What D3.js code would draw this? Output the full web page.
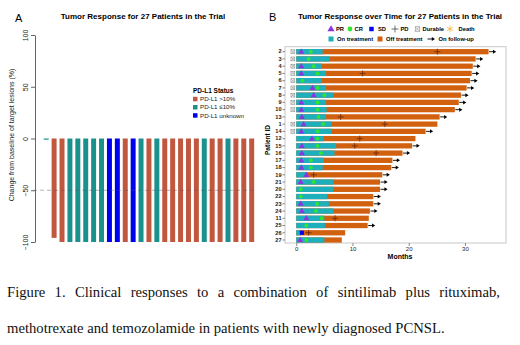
<!DOCTYPE html>
<html>
<head>
<meta charset="utf-8">
<script src="https://cdn.jsdelivr.net/npm/d3@7"></script>
<style>
  body { margin: 0; background: #fff; }
  svg { display: block; }
</style>
</head>
<body>
<div id="chart"></div>
<script>
// ---- Panel A: waterfall of best response ----
const waterfallChange = [-1, -96, -100, -100, -100, -100, -100, -100, -100, -100, -100, -100, -100, -100,
  -100, -100, -100, -100, -100, -100, -100, -100, -100, -100, -100, -100, -100];
const waterfallStatus = [1, 0, 0, 1, 1, 1, 1, 1, 2, 2, 0, 2, 1, 0, 1, 0, 0, 0, 0, 0, 1, 0, 0, 1, 0, 0, 0];
const statusLabels = ["PD-L1 >10%", "PD-L1 \u226410%", "PD-L1 unknown"];
const statusColors = ["#c0573e", "#1b918e", "#0000ee"];
const changeTicks = [100, 50, 0, -50, -100];

// ---- Panel B: swimmer plot ----
const patientIds = [2, 3, 4, 5, 6, 7, 8, 9, 10, 13, 1, 14, 12, 15, 16, 17, 18, 19, 21, 20, 22, 23, 24, 11, 25, 26, 27];
const totalMonths = [34.2, 31.9, 31.4, 31.2, 30.9, 30.3, 29.3, 28.9, 28.2, 25.5, 25.1, 23.0, 21.2, 20.6,
  18.9, 17.1, 16.9, 15.3, 14.9, 14.9, 13.7, 13.7, 13.1, 12.9, 12.7, 8.7, 8.1];
const onTreatMonths = [4.7, 5.9, 4.5, 5.3, 4.5, 5.3, 6.6, 5.3, 5.4, 5.3, 6.3, 6.3, 4.8, 7.1,
  6.8, 4.9, 4.7, 2.0, 6.6, 6.6, 5.5, 5.8, 6.6, 5.0, 5.1, 0.7, 5.0];
const prMonths = [0.9, null, 0.9, 0.9, null, 2.9, 3.1, 0.9, 0.9, 1.0, 1.3, 0.9, 2.8, 1.0,
  1.0, 0.9, 0.9, 1.8, 0.8, null, null, 0.8, 1.0, 1.8, null, null, 0.7];
const crMonths = [2.6, 2.2, 3.1, 3.8, 1.1, 3.8, 5.0, 3.8, 3.8, 3.95, 4.8, 3.8, 3.8, 3.8,
  4.4, 2.6, 2.6, null, 3.1, 0.8, 0.8, 3.7, 3.5, 4.5, 1.8, null, 1.8];
const sdMonths = [null, null, null, null, null, null, null, null, null, null, null, null, null, null,
  null, null, null, null, null, null, null, null, null, null, null, 1.0, null];
const pdMonths = [25.1, null, null, 11.8, null, null, null, null, null, 7.9, 15.75, null, 11.3, 10.4,
  14.2, null, null, 3.1, null, null, null, null, null, 6.9, null, 2.2, null];
const durable = [1, 1, 1, 1, 1, 1, 1, 1, 1, 0, 1, 1, 0, 0, 0, 0, 0, 0, 0, 0, 0, 0, 0, 0, 0, 0, 0];
const onFollowUp = [1, 1, 1, 1, 1, 1, 1, 1, 1, 1, 0, 1, 0, 1, 1, 1, 1, 1, 1, 1, 1, 1, 1, 0, 1, 0, 0];
const monthTicks = [0, 10, 20, 30];

const captionLines = [
  "Figure 1. Clinical responses to a combination of sintilimab plus rituximab,",
  "methotrexate and temozolamide in patients with newly diagnosed PCNSL."
];

const W = 520, H = 345;
const sans = "'Liberation Sans', Arial, sans-serif";

const svg = d3.select("#chart").append("svg")
    .attr("width", W).attr("height", H)
    .style("font-family", sans);

// ================= Panel A =================
const gA = svg.append("g");

const xA = d3.scaleBand()
    .domain(d3.range(waterfallChange.length))
    .range([42.3, 255.6])
    .paddingInner(0.37)
    .paddingOuter(0.18);
const yA = d3.scaleLinear().domain([-100, 100]).range([242, 35]);

gA.append("text").attr("x", 15).attr("y", 22)
    .style("font-size", "11px").text("A");
gA.append("text").attr("x", 143).attr("y", 19)
    .attr("text-anchor", "middle")
    .style("font-size", "8px").style("font-weight", "bold")
    .text("Tumor Response for 27 Patients in the Trial");

gA.selectAll("rect.wf")
    .data(waterfallChange)
    .enter()
    .append("rect")
    .attr("class", "wf")
    .attr("x", (d, i) => xA(i))
    .attr("width", xA.bandwidth())
    .attr("y", yA(0))
    .attr("height", (d) => Math.max(1.2, yA(d) - yA(0)))
    .attr("fill", (d, i) => statusColors[waterfallStatus[i]]);

// dashed reference at -50
gA.append("line")
    .attr("x1", 33).attr("x2", 257)
    .attr("y1", yA(-50)).attr("y2", yA(-50))
    .attr("stroke", "#555").attr("stroke-opacity", 0.55)
    .attr("stroke-width", 0.8).attr("stroke-dasharray", "4,3");

const axA = gA.append("g")
    .attr("transform", "translate(35,0)")
    .call(d3.axisLeft(yA).tickValues(changeTicks).tickSize(4).tickSizeOuter(0));
axA.select(".domain").attr("stroke", "#666");
axA.selectAll(".tick line").attr("stroke", "#666");
axA.selectAll(".tick text")
    .attr("transform", "rotate(-90)")
    .attr("x", 0).attr("y", -7).attr("dy", 0)
    .attr("text-anchor", "middle")
    .style("font-size", "7px").style("font-family", sans).attr("fill", "#222");

gA.append("text")
    .attr("transform", "translate(14,135) rotate(-90)")
    .attr("text-anchor", "middle")
    .style("font-size", "7px").attr("fill", "#222")
    .text("Change from baseline of target lesions (%)");

// legend
const legA = gA.append("g").attr("transform", "translate(193,0)");
legA.append("text").attr("x", 0).attr("y", 92.5)
    .style("font-size", "6.5px").style("font-weight", "bold").text("PD-L1 Status");
statusLabels.forEach((lab, i) => {
  const yy = 99 + i * 8.2;
  legA.append("rect").attr("x", 0).attr("y", yy - 2.2).attr("width", 4.5).attr("height", 4.5)
      .attr("fill", statusColors[i]);
  legA.append("text").attr("x", 7).attr("y", yy + 2.2)
      .style("font-size", "6.2px").attr("fill", "#222").text(lab);
});

// ================= Panel B =================
const gB = svg.append("g");
const onColor = "#1eafbd", offColor = "#d2610f";
const prColor = "#8a35e0", crColor = "#2ee62e", sdColor = "#0000ee";
const pdColor = "#5a220a", deathColor = "#f2b84b";

const xB = d3.scaleLinear().domain([-2, 37.3]).range([285, 506]);
const yB = d3.scaleBand().domain(patientIds).range([48.1, 243.6]).paddingInner(0.27).paddingOuter(0.13);
const rows = patientIds.map((id, i) => ({
  id, total: totalMonths[i], on: onTreatMonths[i], pr: prMonths[i], cr: crMonths[i],
  sd: sdMonths[i], pd: pdMonths[i], durable: durable[i], follow: onFollowUp[i]
}));

gB.append("text").attr("x", 269).attr("y", 21)
    .style("font-size", "11px").text("B");
gB.append("text").attr("x", 400).attr("y", 18.5)
    .attr("text-anchor", "middle")
    .style("font-size", "8px").style("font-weight", "bold")
    .text("Tumor Response over Time for 27 Patients in the Trial");

// panel border
gB.append("rect").attr("x", 285).attr("y", 46.7).attr("width", 221).attr("height", 196.3)
    .attr("fill", "none").attr("stroke", "#c8c8c8").attr("stroke-width", 1);

// bars
gB.selectAll("rect.off").data(rows).enter().append("rect")
    .attr("class", "off")
    .attr("x", xB(0)).attr("y", (d) => yB(d.id))
    .attr("width", (d) => xB(d.total) - xB(0)).attr("height", yB.bandwidth())
    .attr("fill", offColor);
gB.selectAll("rect.on").data(rows).enter().append("rect")
    .attr("class", "on")
    .attr("x", xB(0)).attr("y", (d) => yB(d.id))
    .attr("width", (d) => xB(d.on) - xB(0)).attr("height", yB.bandwidth())
    .attr("fill", onColor);

const cy = (d) => yB(d.id) + yB.bandwidth() / 2;

// durable box-with-cross
function durableMark(sel, x, y, s) {
  sel.append("rect").attr("x", x - s / 2).attr("y", y - s / 2).attr("width", s).attr("height", s)
      .attr("fill", "#fff").attr("stroke", "#8a8a8a").attr("stroke-width", 0.6);
  sel.append("path").attr("d", `M${x - s / 2},${y - s / 2}L${x + s / 2},${y + s / 2}M${x + s / 2},${y - s / 2}L${x - s / 2},${y + s / 2}`)
      .attr("stroke", "#8a8a8a").attr("stroke-width", 0.6);
}
rows.filter((d) => d.durable).forEach((d) => durableMark(gB, xB(-0.6), cy(d), 3.8));

// PD crosses
const plusPath = (x, y, s) => `M${x - s},${y}L${x + s},${y}M${x},${y - s}L${x},${y + s}`;
gB.selectAll("path.pd").data(rows.filter((d) => d.pd != null)).enter().append("path")
    .attr("class", "pd")
    .attr("d", (d) => plusPath(xB(d.pd), cy(d), 3))
    .attr("stroke", pdColor).attr("stroke-width", 0.7);

const tri = d3.symbol().type(d3.symbolTriangle).size(16);
const circ = d3.symbol().type(d3.symbolCircle).size(12);
const sq = d3.symbol().type(d3.symbolSquare).size(17);

gB.selectAll("path.cr").data(rows.filter((d) => d.cr != null)).enter().append("path")
    .attr("class", "cr").attr("d", circ)
    .attr("transform", (d) => `translate(${xB(d.cr)},${cy(d)})`)
    .attr("fill", crColor);
gB.selectAll("path.pr").data(rows.filter((d) => d.pr != null)).enter().append("path")
    .attr("class", "pr").attr("d", tri)
    .attr("transform", (d) => `translate(${xB(d.pr)},${cy(d) + 0.3})`)
    .attr("fill", prColor);
gB.selectAll("path.sd").data(rows.filter((d) => d.sd != null)).enter().append("path")
    .attr("class", "sd").attr("d", sq)
    .attr("transform", (d) => `translate(${xB(d.sd)},${cy(d)})`)
    .attr("fill", sdColor);

// follow-up arrows
function arrow(sel, x0, x1, y) {
  sel.append("line").attr("x1", x0).attr("x2", x1 - 2).attr("y1", y).attr("y2", y)
      .attr("stroke", "#000").attr("stroke-width", 0.9);
  sel.append("path").attr("d", `M${x1},${y}L${x1 - 3.2},${y - 2}L${x1 - 3.2},${y + 2}Z`).attr("fill", "#000");
}
rows.filter((d) => d.follow).forEach((d) => arrow(gB, xB(d.total) + 0.5, xB(d.total + 1.35), cy(d)));

// axes
const axBx = gB.append("g").attr("transform", "translate(0,243)")
    .call(d3.axisBottom(xB).tickValues(monthTicks).tickSize(3));
axBx.select(".domain").remove();
axBx.selectAll(".tick line").attr("stroke", "#888");
axBx.selectAll(".tick text").attr("y", 4).style("font-size", "6px").style("font-family", sans).attr("fill", "#222");

const axBy = gB.append("g").attr("transform", "translate(285,0)")
    .call(d3.axisLeft(yB).tickSize(2.5));
axBy.select(".domain").remove();
axBy.selectAll(".tick line").attr("stroke", "#888");
axBy.selectAll(".tick text").attr("x", -3.5).style("font-size", "5.6px")
    .style("font-family", sans).style("font-weight", "bold").attr("fill", "#222");

gB.append("text").attr("x", 400).attr("y", 258.5).attr("text-anchor", "middle")
    .style("font-size", "7px").style("font-weight", "bold").text("Months");
gB.append("text").attr("transform", "translate(270,140) rotate(-90)").attr("text-anchor", "middle")
    .style("font-size", "6.5px").style("font-weight", "bold").text("Patient ID");

// legend B
const legB = gB.append("g").style("font-size", "5.8px").style("font-weight", "bold");
const ly1 = 29, ly2 = 39;
legB.append("path").attr("d", d3.symbol().type(d3.symbolTriangle).size(22))
    .attr("transform", `translate(331,${ly1 + 0.3})`).attr("fill", prColor);
legB.append("text").attr("x", 336).attr("y", ly1 + 2).text("PR");
legB.append("path").attr("d", d3.symbol().type(d3.symbolCircle).size(18))
    .attr("transform", `translate(350,${ly1})`).attr("fill", crColor);
legB.append("text").attr("x", 354.5).attr("y", ly1 + 2).text("CR");
legB.append("path").attr("d", d3.symbol().type(d3.symbolSquare).size(20))
    .attr("transform", `translate(371.5,${ly1})`).attr("fill", sdColor);
legB.append("text").attr("x", 378).attr("y", ly1 + 2).text("SD");
legB.append("path").attr("d", plusPath(395, ly1, 3.5)).attr("stroke", "#333").attr("stroke-width", 0.7);
legB.append("text").attr("x", 400.5).attr("y", ly1 + 2).text("PD");
durableMark(legB, 417.5, ly1, 4.5);
legB.append("text").attr("x", 422.5).attr("y", ly1 + 2).text("Durable");
legB.append("path").attr("d", d3.symbol().type(d3.symbolAsterisk).size(30))
    .attr("transform", `translate(450,${ly1})`).attr("stroke", deathColor).attr("stroke-width", 0.9);
legB.append("text").attr("x", 458.5).attr("y", ly1 + 2).text("Death");

legB.append("rect").attr("x", 328.5).attr("y", ly2 - 2.5).attr("width", 5).attr("height", 5).attr("fill", onColor);
legB.append("text").attr("x", 337).attr("y", ly2 + 2).text("On treatment");
legB.append("rect").attr("x", 377.5).attr("y", ly2 - 2.5).attr("width", 5).attr("height", 5).attr("fill", offColor);
legB.append("text").attr("x", 386).attr("y", ly2 + 2).text("Off treatment");
arrow(legB, 427.5, 435, ly2);
legB.append("text").attr("x", 438.5).attr("y", ly2 + 2).text("On follow-up");

// ================= Caption =================
const serif = "'Liberation Serif', 'Times New Roman', serif";
const capG = svg.append("g").style("font-family", serif).attr("fill", "#111");
const left = 7, right = 500;
// size font so the (unjustified) second line matches its width
const probe = capG.append("text").style("font-size", "15px").text(captionLines[1]);
const fs = 15 * 438 / probe.node().getComputedTextLength();
probe.remove();
capG.style("font-size", fs + "px");

// first line justified word by word
const words = captionLines[0].split(" ");
const widths = words.map((w) => {
  const t = capG.append("text").text(w);
  const wd = t.node().getComputedTextLength();
  t.remove();
  return wd;
});
const gap = (right - left - d3.sum(widths)) / (words.length - 1);
let cx = left;
words.forEach((w, i) => {
  capG.append("text").attr("x", cx).attr("y", 296.5).text(w);
  cx += widths[i] + gap;
});
capG.append("text").attr("x", left).attr("y", 333).text(captionLines[1]);
</script>
</body>
</html>
